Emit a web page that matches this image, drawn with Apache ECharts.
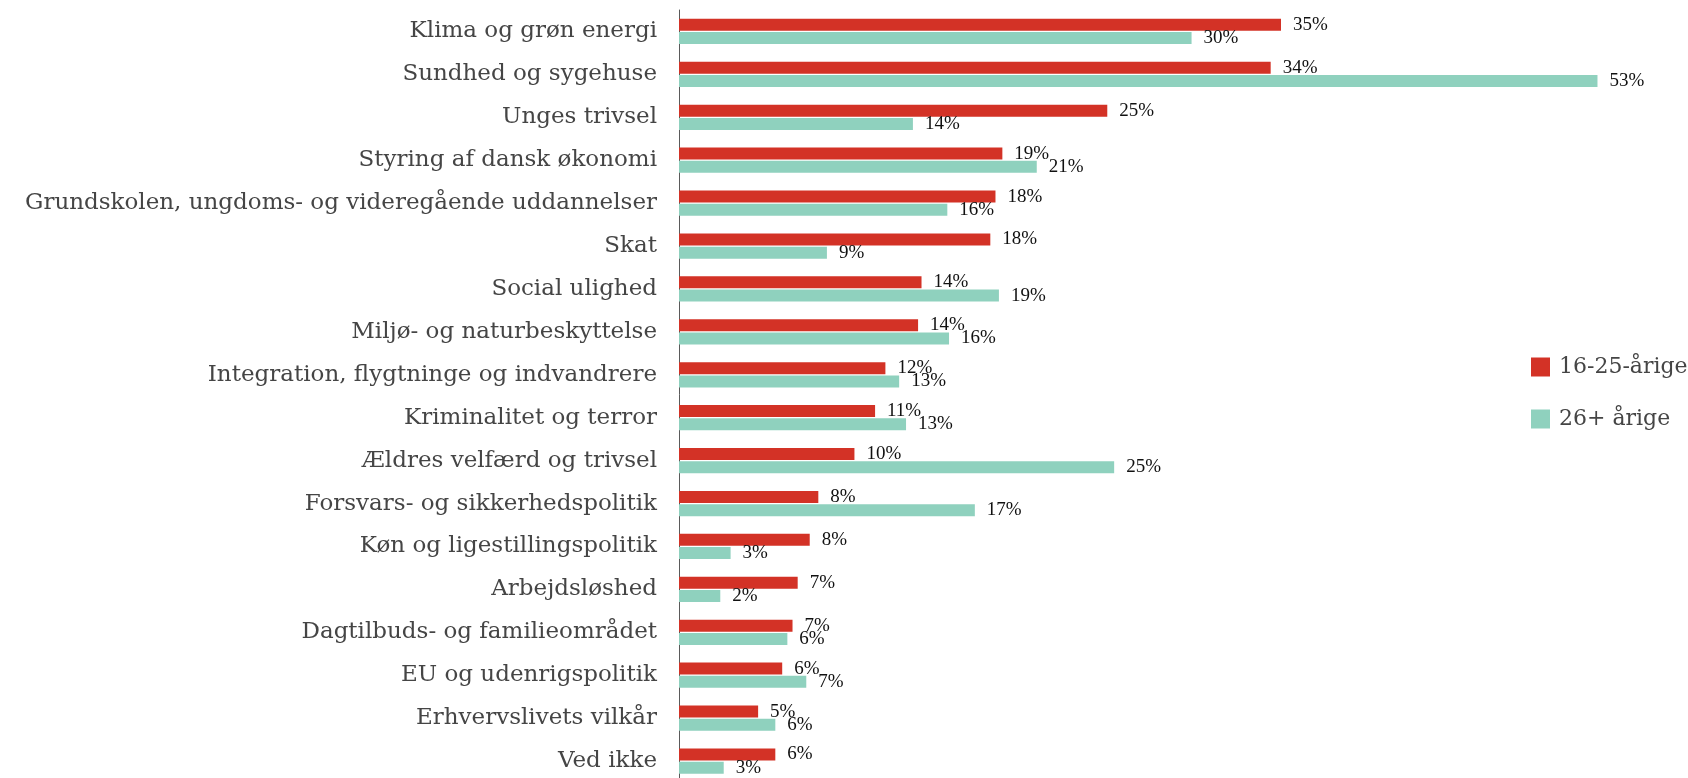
<!DOCTYPE html>
<html>
<head>
<meta charset="utf-8">
<style>
  html, body { margin: 0; padding: 0; background: #fff; }
  #chart { width: 1688px; height: 778px; }
</style>
<script src="https://cdn.jsdelivr.net/npm/echarts@6/dist/echarts.min.js"></script>
</head>
<body>
<div id="chart"></div>
<script>
// emner, oppefra og ned
const categories = [
  'Klima og grøn energi',
  'Sundhed og sygehuse',
  'Unges trivsel',
  'Styring af dansk økonomi',
  'Grundskolen, ungdoms- og videregående uddannelser',
  'Skat',
  'Social ulighed',
  'Miljø- og naturbeskyttelse',
  'Integration, flygtninge og indvandrere',
  'Kriminalitet og terror',
  'Ældres velfærd og trivsel',
  'Forsvars- og sikkerhedspolitik',
  'Køn og ligestillingspolitik',
  'Arbejdsløshed',
  'Dagtilbuds- og familieområdet',
  'EU og udenrigspolitik',
  'Erhvervslivets vilkår',
  'Ved ikke'
]
// andel i procent
const young = [35.0, 34.4, 24.9, 18.8, 18.4, 18.1, 14.1, 13.9, 12.0, 11.4, 10.2, 8.1, 7.6, 6.9, 6.6, 6.0, 4.6, 5.6]
const older = [29.8, 53.4, 13.6, 20.8, 15.6, 8.6, 18.6, 15.7, 12.8, 13.2, 25.3, 17.2, 3.0, 2.4, 6.3, 7.4, 5.6, 2.6]

const colors = ['#D33226', '#8FD1BE']

const labelStyle = {
  show: true,
  position: 'right',
  distance: 12,
  fontFamily: 'Liberation Serif',
  fontSize: 19,
  color: '#111',
  formatter: p => Math.round(p.value) + '%'
}

const chart = echarts.init(document.getElementById('chart'))
chart.setOption({
  animation: false,
  color: colors,
  legend: {
    orient: 'vertical',
    left: 1526,
    top: 351,
    itemWidth: 19,
    itemHeight: 19,
    itemGap: 30,
    icon: 'rect',
    textStyle: {
      fontFamily: 'DejaVu Serif',
      fontSize: 22,
      color: '#454545',
      lineHeight: 19,
      padding: [0, 0, 0, 4]
    },
    data: ['16-25-årige', '26+ årige']
  },
  grid: {
    left: 679,
    top: 10,
    width: 946,
    height: 772.5,
    outerBoundsMode: 'none'
  },
  xAxis: {
    type: 'value',
    min: 0,
    max: 55,
    show: false
  },
  yAxis: {
    type: 'category',
    inverse: true,
    data: categories,
    axisTick: { show: false },
    axisLine: {
      show: true,
      lineStyle: { color: '#5a5a5a', width: 1 }
    },
    axisLabel: {
      margin: 22,
      fontFamily: 'DejaVu Serif',
      fontSize: 23,
      color: '#454545'
    }
  },
  series: [
    {
      name: '16-25-årige',
      type: 'bar',
      barWidth: 12,
      barGap: '10%',
      data: young,
      label: labelStyle
    },
    {
      name: '26+ årige',
      type: 'bar',
      barWidth: 12,
      barGap: '10%',
      data: older,
      label: labelStyle
    }
  ]
})
</script>
</body>
</html>
